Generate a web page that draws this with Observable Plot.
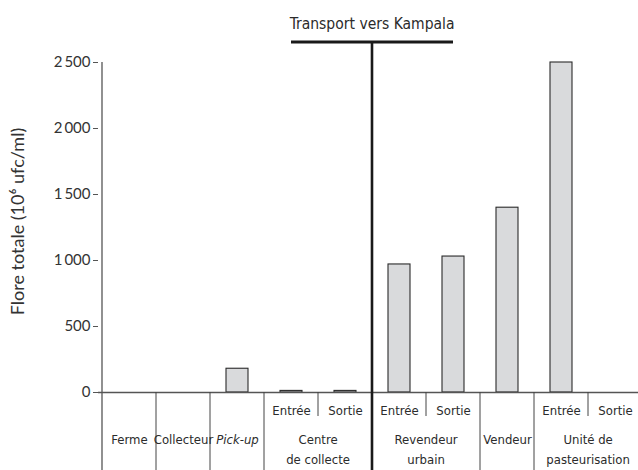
<!DOCTYPE html>
<html><head><meta charset="utf-8">
<script src="https://cdn.jsdelivr.net/npm/d3@7"></script>
<script src="https://cdn.jsdelivr.net/npm/@observablehq/plot@0.6"></script>
<style>body{margin:0;background:#fff} svg{display:block}</style>
</head><body><div id="chart"></div>
<script>
// ---- data ----
const slots = ["Ferme","Collecteur","Pick-up","CC-Entrée","CC-Sortie","RU-Entrée","RU-Sortie","Vendeur","UP-Entrée","UP-Sortie"];
const values = [0, 0, 180, 12, 12, 970, 1030, 1400, 2500, 0];
const subLabels = ["", "", "", "Entrée", "Sortie", "Entrée", "Sortie", "", "Entrée", "Sortie"];
const groupLabels = ["Ferme", "Collecteur", "Pick-up", "Centre\nde collecte", "Revendeur\nurbain", "Vendeur", "Unité de\npasteurisation"];
const groupFirstSlot = ["Ferme", "Collecteur", "Pick-up", "CC-Entrée", "RU-Entrée", "Vendeur", "UP-Entrée"];
const groupSize = [1, 1, 1, 2, 2, 1, 2];
const groupItalic = [false, false, true, false, false, false, false];
const yTicks = [0, 500, 1000, 1500, 2000, 2500];
const yTickLabels = ["0", "500", "1\u2009000", "1\u2009500", "2\u2009000", "2\u2009500"];
const yLabel = "Flore totale (10\u2076 ufc/ml)";
const transportLabel = "Transport vers Kampala";
const transportFrom = "CC-Entrée", transportTo = "RU-Sortie", transportAt = "RU-Entrée";

// ---- derived tables ----
const bars = slots.map((s, i) => ({slot: s, value: values[i]})).filter(d => d.value > 0);
const subs = slots.map((s, i) => ({slot: s, label: subLabels[i]})).filter(d => d.label);
const groups = groupLabels.map((g, i) => {
  const k = slots.indexOf(groupFirstSlot[i]);
  return {label: g, first: groupFirstSlot[i], last: slots[k + groupSize[i] - 1], size: groupSize[i], italic: groupItalic[i]};
});

const W = 638, H = 470;
const xRange = [98, 646];
const step = (xRange[1] - xRange[0]) / slots.length;
const textFont = "'DejaVu Sans Condensed', 'Liberation Sans Narrow', sans-serif";
const ink = "#2b2b2b";

function guides(index, {x, y}, values, dims) {
  const g = d3.create("svg:g");
  const bw = x.bandwidth();
  const st = x.step();
  const left = s => x(s) - (st - bw) / 2;
  const center = s => x(s) + bw / 2;
  const y0 = y(0);
  const bottom = dims.height;
  g.append("line").attr("x1", left(slots[0])).attr("x2", left(slots[0]))
    .attr("y1", y(yTicks[yTicks.length - 1])).attr("y2", bottom)
    .attr("stroke", "#555").attr("stroke-width", 1.3);
  groups.slice(1).forEach(gr => {
    if (gr.first === transportAt) return;
    g.append("line").attr("x1", left(gr.first)).attr("x2", left(gr.first))
      .attr("y1", y0).attr("y2", bottom).attr("stroke", "#444").attr("stroke-width", 1);
  });
  groups.filter(gr => gr.size === 2).forEach(gr => {
    g.append("line").attr("x1", left(gr.last)).attr("x2", left(gr.last))
      .attr("y1", y0).attr("y2", y0 + 24).attr("stroke", "#444").attr("stroke-width", 1);
  });
  const topY = dims.marginTop - 20;
  g.append("line").attr("x1", center(transportFrom)).attr("x2", center(transportTo))
    .attr("y1", topY).attr("y2", topY).attr("stroke", "#1a1a1a").attr("stroke-width", 3);
  g.append("line").attr("x1", left(transportAt)).attr("x2", left(transportAt))
    .attr("y1", topY).attr("y2", bottom).attr("stroke", "#1a1a1a").attr("stroke-width", 2.6);
  return g.node();
}

const chart = Plot.plot({
  width: W,
  height: H,
  marginLeft: 98,
  marginRight: 0,
  marginTop: 62,
  marginBottom: 78,
  style: {background: "#fff", color: ink},
  x: {type: "band", domain: slots, range: xRange, padding: 0.6, paddingOuter: 0.3, axis: null},
  y: {domain: [0, 2500], axis: null},
  marks: [
    Plot.barY(bars, {x: "slot", y: "value", fill: "#d9dadc", stroke: "#2a2a2a", strokeWidth: 1.1}),
    Plot.ruleY([0], {stroke: "#555", strokeWidth: 1.3}),
    Plot.axisY({ticks: yTicks, tickFormat: d => yTickLabels[yTicks.indexOf(d)], tickSize: 5, tickPadding: 3,
      fontSize: 15, fontFamily: "Lato, sans-serif", stroke: "#555", fill: "#333", label: null}),
    Plot.text([yLabel], {frameAnchor: "left", text: d => d, rotate: -90, dx: -80, dy: -6, textAnchor: "middle",
      fontSize: 18, fontFamily: "Lato, sans-serif", fill: "#333"}),
    guides,
    Plot.text(subs, {x: "slot", text: "label", frameAnchor: "bottom", dy: 13, lineAnchor: "top",
      fontSize: 13, fontFamily: textFont, fill: ink}),
    Plot.text(groups.filter(g => g.size === 1 && !g.italic), {x: "first", text: "label", frameAnchor: "bottom",
      dy: 38, lineAnchor: "top", lineHeight: 1.5, fontSize: 13, fontFamily: textFont, fill: ink}),
    Plot.text(groups.filter(g => g.size === 1 && g.italic), {x: "first", text: "label", frameAnchor: "bottom",
      dy: 38, lineAnchor: "top", lineHeight: 1.5, fontSize: 13, fontStyle: "italic", fontFamily: textFont, fill: ink}),
    Plot.text(groups.filter(g => g.size === 2), {x: "last", text: "label", frameAnchor: "bottom", dx: -step / 2,
      dy: 38, lineAnchor: "top", lineHeight: 1.5, fontSize: 13, fontFamily: textFont, fill: ink}),
    Plot.text([transportLabel], {x: () => transportAt, text: d => d, frameAnchor: "top", dx: -step / 2, dy: -38,
      lineAnchor: "middle", fontSize: 15.5, fontFamily: textFont, fill: ink})
  ]
});
document.getElementById("chart").append(chart);
</script>
</body></html>
